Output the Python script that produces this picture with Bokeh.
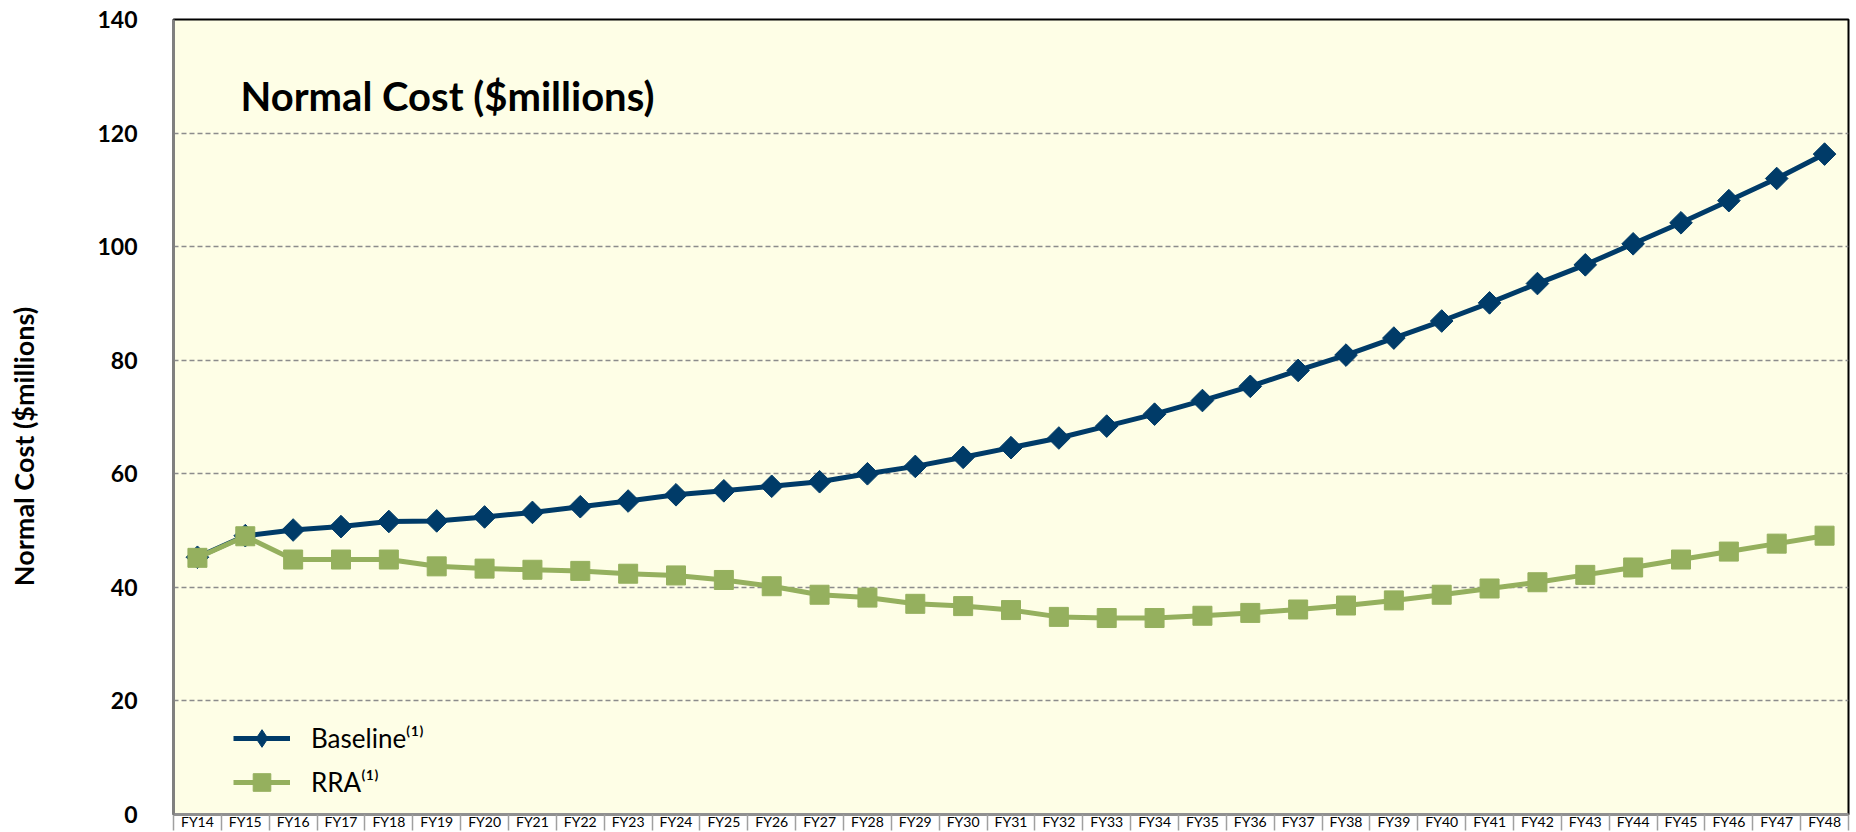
import numpy as np
from bokeh.plotting import figure
from bokeh.models import (Range1d, FixedTicker, CustomJSTickFormatter, Legend,
                          LegendItem, Label)
from bokeh.embed import file_html
from bokeh.resources import INLINE

categories = ["FY14", "FY15", "FY16", "FY17", "FY18", "FY19", "FY20", "FY21",
              "FY22", "FY23", "FY24", "FY25", "FY26", "FY27", "FY28", "FY29",
              "FY30", "FY31", "FY32", "FY33", "FY34", "FY35", "FY36", "FY37",
              "FY38", "FY39", "FY40", "FY41", "FY42", "FY43", "FY44", "FY45",
              "FY46", "FY47", "FY48"]

baseline = [45.3, 49.1, 50.1, 50.7, 51.6, 51.7, 52.4, 53.2, 54.2, 55.2,
            56.3, 57.0, 57.8, 58.6, 60.0, 61.3, 62.9, 64.6, 66.3, 68.4,
            70.5, 72.9, 75.4, 78.2, 80.9, 83.9, 86.9, 90.1, 93.5, 96.8,
            100.5, 104.2, 108.1, 112.0, 116.3]

rra = [45.2, 49.0, 44.9, 44.9, 44.9, 43.7, 43.3, 43.1, 42.9, 42.4,
       42.1, 41.3, 40.2, 38.7, 38.2, 37.1, 36.7, 36.0, 34.8, 34.6,
       34.6, 35.0, 35.5, 36.1, 36.8, 37.7, 38.7, 39.8, 40.9, 42.2,
       43.5, 44.9, 46.3, 47.7, 49.1]

y_ticks = [0, 20, 40, 60, 80, 100, 120, 140]

series_names = ["Baseline\u207d\u00b9\u207e", "RRA\u207d\u00b9\u207e"]
chart_title = "Normal Cost ($millions)"
y_title = "Normal Cost ($millions)"

NAVY = "#003B68"
GREEN = "#95B05E"
FONT = "Lato"

n = len(categories)
x = [i + 0.5 for i in range(n)]

p = figure(width=1850, height=832,
           x_range=Range1d(0, n), y_range=Range1d(0, 140),
           output_backend="svg", toolbar_location=None,
           min_border_left=173, min_border_right=2,
           min_border_top=19, min_border_bottom=15)
p.background_fill_color = "#FEFEE6"
p.border_fill_color = "white"
p.outline_line_color = "black"
p.outline_line_width = 2

# grid
p.xgrid.visible = False
p.ygrid.ticker = FixedTicker(ticks=y_ticks[1:-1])
p.ygrid.grid_line_color = "#8C8C8C"
p.ygrid.grid_line_dash = "5 3"
p.ygrid.grid_line_width = 1.5

# y axis
p.yaxis.ticker = FixedTicker(ticks=y_ticks)
p.yaxis.major_label_text_font = FONT
p.yaxis.major_label_text_font_style = "bold"
p.yaxis.major_label_text_font_size = "23px"
p.yaxis.major_label_text_color = "black"
p.yaxis.major_label_standoff = 30
p.yaxis.major_tick_line_color = None
p.yaxis.minor_tick_line_color = None
p.yaxis.axis_line_color = "#808080"
p.yaxis.axis_line_width = 2.5
p.yaxis.axis_label = y_title + "\u00a0" * 9
p.yaxis.axis_label_text_font = FONT
p.yaxis.axis_label_text_font_style = "bold"
p.yaxis.axis_label_text_font_size = "27px"
p.yaxis.axis_label_text_color = "black"
p.yaxis.axis_label_standoff = 54

# x axis: labels at centres, separators at boundaries
p.xaxis.ticker = FixedTicker(ticks=x, minor_ticks=[float(i) for i in range(n + 1)])
p.xaxis.formatter = CustomJSTickFormatter(args=dict(labels=categories),
                                          code="return labels[Math.floor(tick)] || ''")
p.xaxis.major_tick_in = 0
p.xaxis.major_tick_out = 0
p.xaxis.minor_tick_in = 0
p.xaxis.minor_tick_out = 16
p.xaxis.minor_tick_line_color = "#A0A0A0"
p.xaxis.minor_tick_line_width = 1.5
p.xaxis.axis_line_color = "#909090"
p.xaxis.axis_line_width = 3
p.xaxis.major_label_text_font = FONT
p.xaxis.major_label_text_font_size = "14px"
p.xaxis.major_label_text_color = "black"
p.xaxis.major_label_standoff = -18

# series
bl_line = p.line(x, baseline, line_color=NAVY, line_width=5)
bl_pts = p.scatter(x, baseline, marker="square", angle=np.pi / 4, size=16,
                   fill_color=NAVY, line_color=NAVY)
# small diamond used as the legend key; sits hidden under the first RRA square
bl_key = p.scatter(x[:1], baseline[:1], marker="diamond", size=10,
                   fill_color=NAVY, line_color=NAVY)
rra_line = p.line(x, rra, line_color=GREEN, line_width=5)
rra_pts = p.scatter(x, rra, marker="square", size=19,
                    fill_color=GREEN, line_color=GREEN)

legend = Legend(items=[LegendItem(label=series_names[0], renderers=[bl_line, bl_key]),
                       LegendItem(label=series_names[1], renderers=[rra_line, rra_pts])],
                location=(60, 10), glyph_width=57, glyph_height=44,
                label_height=44, spacing=0, padding=0, margin=0,
                background_fill_alpha=0, border_line_alpha=0,
                label_text_font=FONT, label_text_font_size="26px",
                label_text_color="black", label_standoff=21)
p.add_layout(legend)

title = Label(x=1.4, y=126.6, text=chart_title, text_baseline="middle",
              text_font=FONT, text_font_style="bold", text_font_size="40px",
              text_color="black")
p.add_layout(title)

open("out.html", "w").write(file_html(p, INLINE))
